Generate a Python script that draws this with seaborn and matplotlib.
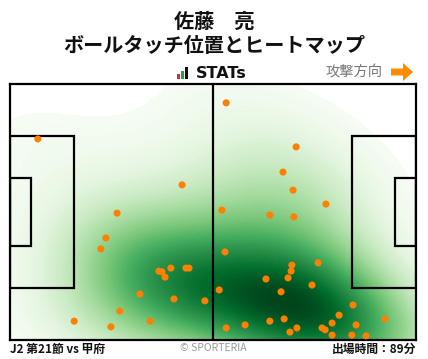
import matplotlib
matplotlib.use("Agg")
import matplotlib.pyplot as plt
import seaborn as sns
import numpy as np
import pandas as pd
from matplotlib.patches import Rectangle, FancyArrow

sns.set_theme(style="white")
plt.rcParams['font.family'] = ['Noto Sans CJK JP', 'DejaVu Sans']

# Touch positions (metres, pitch 105 x 68, attacking to the right)
touch_x = [7.2, 44.5, 27.7, 55.9, 74.0, 70.6, 73.2, 81.7, 54.8, 67.2, 73.4, 24.8, 23.5,
           38.5, 39.3, 41.6, 40.1, 45.5, 46.3, 33.6, 42.4, 50.4, 28.4, 16.6, 36.2, 26.1,
           55.6, 72.9, 72.7, 79.7, 66.2, 71.9, 78.1, 54.1, 70.1, 88.7, 85.1, 97.0, 70.9,
           67.2, 60.8, 55.9, 74.2, 80.7, 81.5, 83.3, 89.5, 72.4, 83.3, 88.4, 92.1]
touch_y = [53.4, 41.2, 33.7, 63.0, 51.3, 44.6, 39.8, 36.1, 34.5, 33.2, 32.7, 27.1, 24.2,
           18.3, 18.1, 19.1, 16.7, 19.1, 19.1, 12.2, 10.9, 10.4, 7.7, 5.0, 5.0, 3.5,
           23.4, 19.9, 18.3, 20.5, 16.2, 16.5, 14.6, 13.3, 12.8, 9.3, 6.6, 5.6, 5.6,
           5.0, 4.0, 3.2, 3.2, 3.2, 2.7, 4.5, 4.0, 2.1, 1.3, 1.3, 1.1]

player_name = "佐藤　亮"
chart_title = "ボールタッチ位置とヒートマップ"
match_label = "J2 第21節 vs 甲府"
minutes_label = "出場時間：89分"

df = pd.DataFrame({"x": touch_x, "y": touch_y})

W, H = 428, 359
fig = plt.figure(figsize=(W / 100, H / 100), dpi=100)
fig.patch.set_facecolor("white")

# pitch axes (pixels: x 10-416, y 84-340)
ax = fig.add_axes([10 / W, (H - 340) / H, 406 / W, 256 / H])
ax.set_xlim(0, 105)
ax.set_ylim(0, 68)

sns.kdeplot(data=df, x="x", y="y", fill=True, cmap="Greens", levels=100, thresh=0.015,
            bw_adjust=1.45, clip=((-5, 110), (-5, 73)), gridsize=200, ax=ax, zorder=1)

lw = 1.6
# halfway line
ax.plot([52.5, 52.5], [0, 68], color="black", lw=lw, zorder=3)
# penalty areas and goal areas
for x0, w in [(0, 16.5), (105 - 16.5, 16.5)]:
    ax.add_patch(Rectangle((x0, 34 - 20.15), w, 40.3, fill=False, ec="black", lw=lw, zorder=3))
for x0, w in [(0, 5.5), (105 - 5.5, 5.5)]:
    ax.add_patch(Rectangle((x0, 34 - 9.15), w, 18.3, fill=False, ec="black", lw=lw, zorder=3))

sns.scatterplot(data=df, x="x", y="y", color="#ff7f00", s=26, edgecolor="none", ax=ax, zorder=4)

ax.set_xlim(0, 105)
ax.set_ylim(0, 68)
ax.set_xticks([])
ax.set_yticks([])
ax.set_xlabel("")
ax.set_ylabel("")
for sp in ax.spines.values():
    sp.set_visible(True)
    sp.set_color("black")
    sp.set_linewidth(lw)

# overlay axes for header / footer in pixel coords
ov = fig.add_axes([0, 0, 1, 1], zorder=-1)
ov.set_xlim(0, W)
ov.set_ylim(H, 0)
ov.axis("off")

ov.text(214, 21, player_name, ha="center", va="center", fontsize=14.5, fontweight="bold", color="#111111")
ov.text(214, 46, chart_title, ha="center", va="center", fontsize=14.5, fontweight="bold", color="#111111")

# STATs logo
ov.add_patch(Rectangle((177, 74), 3, 5, color="#e8262b", lw=0))
ov.add_patch(Rectangle((181, 71), 3, 8, color="#2aa33a", lw=0))
ov.add_patch(Rectangle((185, 67), 3.5, 12, color="#111111", lw=0))
ov.text(196, 74, "STATs", ha="left", va="center", fontsize=11.5, fontweight="bold",
        color="#111111", family=["DejaVu Sans"])

ov.text(326, 72, "攻撃方向", ha="left", va="center", fontsize=10.3, color="#777777")
ov.add_patch(FancyArrow(391, 72, 12, 0, width=7, head_width=18, head_length=10,
                        length_includes_head=False, color="#ff8c00", lw=0))

ov.text(10, 349, match_label, ha="left", va="center", fontsize=8.5, fontweight="bold", color="#111111")
ov.text(213, 348, "© SPORTERIA", ha="center", va="center", fontsize=7.5, color="#999999")
ov.text(416, 349, minutes_label, ha="right", va="center", fontsize=8.5, fontweight="bold", color="#111111")

fig.savefig("out.png", dpi=100, facecolor="white")
